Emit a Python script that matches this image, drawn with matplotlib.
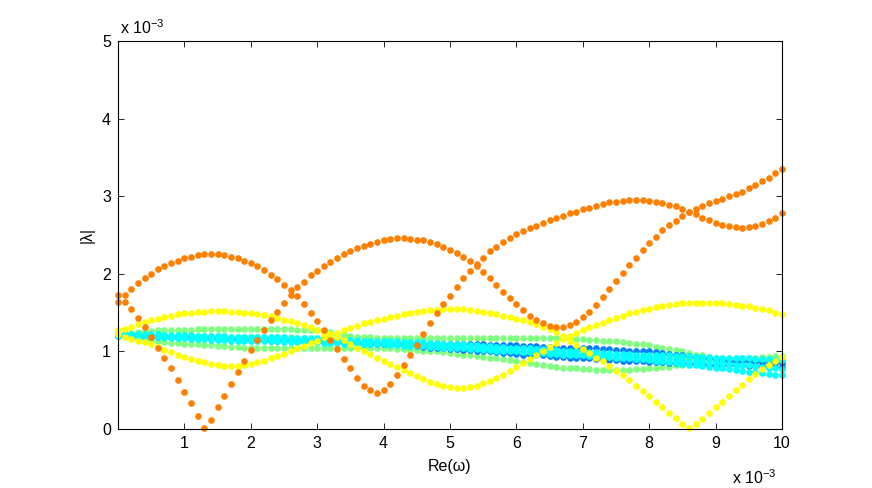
import numpy as np
import matplotlib
matplotlib.use("Agg")
import matplotlib.pyplot as plt

plt.rcParams['font.family'] = ['Liberation Sans', 'DejaVu Sans']
plt.rcParams['mathtext.default'] = 'regular'

# Re(omega) grid, in units of 1e-3
re_omega = np.linspace(0, 10, 101)

# |lambda| values, in units of 1e-3
orange_a = [1.73, 1.73, 1.81, 1.88, 1.94, 2.00, 2.06, 2.10, 2.14, 2.17,
            2.20, 2.22, 2.24, 2.25, 2.25, 2.25, 2.24, 2.22, 2.20, 2.17,
            2.14, 2.10, 2.05, 1.99, 1.93, 1.86, 1.79, 1.71, 1.61, 1.50,
            1.39, 1.27, 1.15, 1.03, 0.90, 0.78, 0.66, 0.56, 0.50, 0.47,
            0.50, 0.58, 0.69, 0.82, 0.95, 1.08, 1.22, 1.36, 1.49, 1.61,
            1.72, 1.83, 1.94, 2.03, 2.12, 2.21, 2.29, 2.35, 2.41, 2.46,
            2.51, 2.55, 2.59, 2.62, 2.66, 2.69, 2.72, 2.75, 2.78, 2.80,
            2.83, 2.85, 2.88, 2.90, 2.92, 2.93, 2.94, 2.95, 2.95, 2.95,
            2.94, 2.93, 2.91, 2.89, 2.87, 2.84, 2.80, 2.77, 2.72, 2.69,
            2.66, 2.63, 2.61, 2.60, 2.59, 2.60, 2.61, 2.64, 2.68, 2.72,
            2.78]
orange_b = [1.64, 1.64, 1.54, 1.43, 1.31, 1.18, 1.05, 0.92, 0.78, 0.63,
            0.48, 0.33, 0.17, 0.01, 0.12, 0.28, 0.43, 0.58, 0.73, 0.88,
            1.02, 1.15, 1.28, 1.40, 1.51, 1.63, 1.73, 1.83, 1.90, 1.98,
            2.04, 2.10, 2.15, 2.20, 2.25, 2.29, 2.33, 2.36, 2.39, 2.41,
            2.43, 2.45, 2.46, 2.46, 2.45, 2.44, 2.43, 2.41, 2.38, 2.35,
            2.31, 2.27, 2.22, 2.16, 2.10, 2.02, 1.94, 1.86, 1.77, 1.69,
            1.61, 1.53, 1.46, 1.40, 1.36, 1.33, 1.32, 1.32, 1.34, 1.38,
            1.44, 1.51, 1.60, 1.70, 1.80, 1.91, 2.01, 2.11, 2.21, 2.31,
            2.40, 2.48, 2.56, 2.63, 2.68, 2.74, 2.80, 2.84, 2.88, 2.91,
            2.94, 2.97, 3.00, 3.03, 3.06, 3.10, 3.14, 3.19, 3.24, 3.30,
            3.35]
yellow_a = [1.28, 1.29, 1.32, 1.35, 1.38, 1.40, 1.42, 1.44, 1.46, 1.48,
            1.49, 1.50, 1.51, 1.51, 1.52, 1.52, 1.52, 1.51, 1.51, 1.50,
            1.49, 1.48, 1.47, 1.45, 1.43, 1.41, 1.39, 1.37, 1.34, 1.31,
            1.28, 1.25, 1.22, 1.19, 1.15, 1.10, 1.05, 1.01, 0.97, 0.92,
            0.88, 0.84, 0.80, 0.76, 0.72, 0.68, 0.64, 0.61, 0.58, 0.56,
            0.54, 0.53, 0.53, 0.54, 0.56, 0.59, 0.62, 0.66, 0.70, 0.75,
            0.80, 0.85, 0.90, 0.96, 1.01, 1.06, 1.11, 1.16, 1.20, 1.24,
            1.28, 1.31, 1.34, 1.37, 1.40, 1.43, 1.46, 1.49, 1.51, 1.53,
            1.55, 1.57, 1.58, 1.60, 1.61, 1.62, 1.62, 1.63, 1.63, 1.63,
            1.62, 1.62, 1.61, 1.60, 1.59, 1.58, 1.56, 1.55, 1.53, 1.50,
            1.48]
yellow_b = [1.22, 1.19, 1.16, 1.14, 1.12, 1.09, 1.06, 1.02, 0.99, 0.96,
            0.93, 0.90, 0.88, 0.86, 0.84, 0.82, 0.81, 0.81, 0.81, 0.82,
            0.84, 0.86, 0.88, 0.91, 0.94, 0.97, 1.00, 1.04, 1.07, 1.11,
            1.14, 1.18, 1.21, 1.24, 1.27, 1.30, 1.33, 1.36, 1.38, 1.40,
            1.42, 1.44, 1.46, 1.48, 1.50, 1.51, 1.52, 1.53, 1.53, 1.54,
            1.54, 1.54, 1.54, 1.53, 1.52, 1.51, 1.50, 1.48, 1.46, 1.44,
            1.42, 1.40, 1.38, 1.35, 1.32, 1.29, 1.25, 1.20, 1.14, 1.08,
            1.03, 0.98, 0.92, 0.87, 0.81, 0.75, 0.69, 0.63, 0.56, 0.49,
            0.42, 0.35, 0.28, 0.21, 0.14, 0.07, 0.01, 0.06, 0.13, 0.20,
            0.28, 0.35, 0.43, 0.50, 0.57, 0.64, 0.71, 0.77, 0.83, 0.88,
            0.93]
green_up = [1.22, 1.23, 1.24, 1.25, 1.26, 1.26, 1.27, 1.27, 1.28, 1.28,
            1.28, 1.28, 1.29, 1.29, 1.29, 1.29, 1.29, 1.29, 1.29, 1.29,
            1.29, 1.29, 1.29, 1.29, 1.29, 1.29, 1.29, 1.28, 1.28, 1.28,
            1.27, 1.26, 1.25, 1.23, 1.21, 1.20, 1.19, 1.18, 1.18, 1.17,
            1.17, 1.17, 1.17, 1.17, 1.17, 1.17, 1.17, 1.17, 1.17, 1.17,
            1.17, 1.17, 1.17, 1.17, 1.17, 1.17, 1.17, 1.17, 1.17, 1.17,
            1.17, 1.17, 1.17, 1.17, 1.17, 1.17, 1.17, 1.17, 1.16, 1.16,
            1.16, 1.15, 1.15, 1.14, 1.14, 1.13, 1.12, 1.11, 1.10, 1.09,
            1.08, 1.06, 1.05, 1.03, 1.02, 1.00, 0.98, 0.96, 0.95, 0.93,
            0.92, 0.91, 0.90, 0.89, 0.89, 0.88, 0.89, 0.89, 0.90, 0.91,
            0.92]
green_mid = [1.22, 1.22, 1.22, 1.22, 1.21, 1.21, 1.21, 1.21, 1.21, 1.20,
             1.20, 1.20, 1.20, 1.20, 1.20, 1.20, 1.20, 1.19, 1.19, 1.19,
             1.19, 1.19, 1.19, 1.18, 1.18, 1.18, 1.18, 1.17, 1.17, 1.16,
             1.16, 1.15, 1.15, 1.14, 1.13, 1.13, 1.12, 1.12, 1.11, 1.11,
             1.11, 1.11, 1.10, 1.10, 1.10, 1.10, 1.09, 1.09, 1.08, 1.07,
             1.06, 1.05, 1.04, 1.03, 1.02, 1.01, 1.00, 0.99, 0.99, 0.98,
             0.98, 0.97, 0.97, 0.97, 0.97, 0.97, 0.97, 0.97, 0.97, 0.97,
             0.97, 0.97, 0.96, 0.96, 0.96, 0.96, 0.95, 0.95, 0.95, 0.94,
             0.94, 0.94, 0.93, 0.93, 0.92, 0.92, 0.91, 0.91, 0.90, 0.90,
             0.89, 0.89, 0.88, 0.88, 0.87, 0.87, 0.87, 0.86, 0.86, 0.86,
             0.86]
green_low = [1.22, 1.20, 1.18, 1.16, 1.15, 1.14, 1.13, 1.12, 1.11, 1.11,
             1.10, 1.10, 1.09, 1.08, 1.08, 1.07, 1.07, 1.06, 1.06, 1.05,
             1.05, 1.05, 1.05, 1.04, 1.04, 1.04, 1.04, 1.04, 1.04, 1.04,
             1.04, 1.04, 1.04, 1.04, 1.04, 1.04, 1.04, 1.04, 1.04, 1.04,
             1.04, 1.04, 1.03, 1.03, 1.02, 1.02, 1.01, 1.00, 1.00, 0.99,
             0.98, 0.97, 0.96, 0.95, 0.94, 0.93, 0.92, 0.91, 0.90, 0.89,
             0.88, 0.86, 0.85, 0.84, 0.82, 0.81, 0.80, 0.79, 0.78, 0.78,
             0.77, 0.77, 0.76, 0.76, 0.76, 0.76, 0.76, 0.76, 0.77, 0.77,
             0.78, 0.79, 0.80, 0.80, 0.82, 0.83, 0.84, 0.85, 0.86, 0.87,
             0.88, 0.89, 0.90, 0.90, 0.91, 0.92, 0.92, 0.93, 0.93, 0.94,
             0.94]
cyan_1 = [1.23, 1.23, 1.23, 1.22, 1.22, 1.22, 1.22, 1.21, 1.21, 1.21,
          1.21, 1.21, 1.20, 1.20, 1.20, 1.20, 1.20, 1.19, 1.19, 1.19,
          1.19, 1.19, 1.18, 1.18, 1.18, 1.18, 1.17, 1.17, 1.17, 1.17,
          1.17, 1.16, 1.16, 1.16, 1.15, 1.15, 1.15, 1.14, 1.14, 1.14,
          1.13, 1.13, 1.13, 1.12, 1.12, 1.12, 1.12, 1.11, 1.11, 1.10,
          1.10, 1.09, 1.09, 1.08, 1.08, 1.07, 1.07, 1.06, 1.06, 1.05,
          1.05, 1.04, 1.04, 1.03, 1.03, 1.02, 1.02, 1.01, 1.01, 1.00,
          1.00, 0.99, 0.99, 0.98, 0.98, 0.97, 0.97, 0.97, 0.96, 0.96,
          0.96, 0.95, 0.95, 0.95, 0.94, 0.94, 0.94, 0.93, 0.93, 0.93,
          0.92, 0.92, 0.92, 0.91, 0.91, 0.91, 0.90, 0.90, 0.90, 0.89,
          0.89]
cyan_2 = [1.21, 1.21, 1.21, 1.20, 1.20, 1.20, 1.20, 1.19, 1.19, 1.19,
          1.19, 1.18, 1.18, 1.18, 1.18, 1.17, 1.17, 1.17, 1.17, 1.16,
          1.16, 1.16, 1.16, 1.16, 1.15, 1.15, 1.15, 1.15, 1.14, 1.14,
          1.14, 1.14, 1.13, 1.13, 1.13, 1.13, 1.12, 1.12, 1.12, 1.11,
          1.11, 1.11, 1.10, 1.10, 1.10, 1.09, 1.09, 1.08, 1.08, 1.07,
          1.07, 1.06, 1.06, 1.05, 1.05, 1.04, 1.04, 1.03, 1.03, 1.02,
          1.02, 1.01, 1.01, 1.00, 1.00, 0.99, 0.99, 0.98, 0.98, 0.97,
          0.97, 0.96, 0.96, 0.95, 0.95, 0.94, 0.94, 0.93, 0.93, 0.92,
          0.92, 0.91, 0.91, 0.90, 0.89, 0.89, 0.88, 0.87, 0.87, 0.86,
          0.85, 0.85, 0.84, 0.83, 0.82, 0.82, 0.81, 0.80, 0.79, 0.78,
          0.77]
cyan_3 = [1.20, 1.20, 1.19, 1.19, 1.19, 1.18, 1.18, 1.18, 1.17, 1.17,
          1.17, 1.16, 1.16, 1.16, 1.15, 1.15, 1.15, 1.14, 1.14, 1.14,
          1.14, 1.13, 1.13, 1.13, 1.13, 1.12, 1.12, 1.12, 1.12, 1.12,
          1.12, 1.11, 1.11, 1.11, 1.10, 1.10, 1.10, 1.09, 1.09, 1.09,
          1.09, 1.08, 1.08, 1.07, 1.07, 1.07, 1.07, 1.06, 1.06, 1.05,
          1.05, 1.04, 1.04, 1.03, 1.03, 1.02, 1.02, 1.01, 1.01, 1.00,
          1.00, 0.99, 0.99, 0.98, 0.98, 0.97, 0.97, 0.96, 0.96, 0.95,
          0.95, 0.94, 0.94, 0.93, 0.93, 0.92, 0.92, 0.91, 0.90, 0.90,
          0.89, 0.88, 0.87, 0.86, 0.85, 0.84, 0.83, 0.82, 0.81, 0.80,
          0.79, 0.78, 0.77, 0.76, 0.75, 0.74, 0.73, 0.72, 0.71, 0.70,
          0.69]
blue_1 = [1.21, 1.21, 1.21, 1.21, 1.20, 1.20, 1.20, 1.20, 1.19, 1.19,
          1.19, 1.19, 1.18, 1.18, 1.18, 1.18, 1.17, 1.17, 1.17, 1.17,
          1.16, 1.16, 1.16, 1.16, 1.15, 1.15, 1.15, 1.15, 1.14, 1.14,
          1.14, 1.13, 1.13, 1.13, 1.12, 1.12, 1.12, 1.11, 1.11, 1.11,
          1.10, 1.10, 1.10, 1.09, 1.09, 1.09, 1.09, 1.09, 1.09, 1.09,
          1.09, 1.09, 1.09, 1.09, 1.09, 1.09, 1.08, 1.08, 1.08, 1.08,
          1.08, 1.07, 1.07, 1.07, 1.06, 1.06, 1.06, 1.05, 1.05, 1.05,
          1.04, 1.04, 1.04, 1.03, 1.03, 1.02, 1.02, 1.01, 1.01, 1.00,
          1.00, 0.99, 0.98, 0.97, 0.96, 0.95, 0.94, 0.93, 0.92, 0.91,
          0.90, 0.89, 0.88, 0.88, 0.87, 0.87, 0.86, 0.86, 0.85, 0.85,
          0.85]
blue_2 = [1.20, 1.20, 1.20, 1.20, 1.19, 1.19, 1.19, 1.19, 1.18, 1.18,
          1.18, 1.18, 1.17, 1.17, 1.17, 1.16, 1.16, 1.16, 1.16, 1.15,
          1.15, 1.15, 1.15, 1.14, 1.14, 1.14, 1.14, 1.13, 1.13, 1.13,
          1.13, 1.12, 1.12, 1.12, 1.11, 1.11, 1.11, 1.10, 1.10, 1.10,
          1.09, 1.09, 1.09, 1.08, 1.08, 1.07, 1.06, 1.05, 1.05, 1.04,
          1.03, 1.03, 1.02, 1.02, 1.01, 1.00, 1.00, 0.99, 0.98, 0.98,
          0.97, 0.96, 0.96, 0.95, 0.95, 0.94, 0.93, 0.93, 0.92, 0.92,
          0.91, 0.91, 0.90, 0.90, 0.89, 0.89, 0.88, 0.88, 0.87, 0.87,
          0.86, 0.86, 0.86, 0.85, 0.85, 0.85, 0.84, 0.84, 0.84, 0.83,
          0.83, 0.83, 0.82, 0.82, 0.82, 0.81, 0.81, 0.81, 0.80, 0.80,
          0.80]

x_ticks = [1, 2, 3, 4, 5, 6, 7, 8, 9, 10]
y_ticks = [0, 1, 2, 3, 4, 5]

# drawing order bottom -> top, with colour
series = [
    (green_low, '#80ff80'), (green_mid, '#80ff80'), (green_up, '#80ff80'),
    (blue_1, '#0080ff'), (blue_2, '#0080ff'),
    (cyan_1, '#00ffff'), (cyan_2, '#00ffff'), (cyan_3, '#00ffff'),
    (yellow_a, '#ffff00'), (yellow_b, '#ffff00'),
    (orange_a, '#ff8000'), (orange_b, '#ff8000'),
]

fig = plt.figure(figsize=(8.72, 4.88), dpi=100)
ax = fig.add_axes([118/872, 59/488, 664/872, 388/488])

for vals, col in series:
    ax.plot(re_omega, vals, linestyle='none', marker='o', ms=4.8,
            mfc=col, mec='none', clip_on=False)

ax.set_xlim(0, 10)
ax.set_ylim(0, 5)
ax.set_xticks(x_ticks)
ax.set_yticks(y_ticks)
ax.set_xticklabels([str(t) for t in x_ticks])
ax.set_yticklabels([str(t) for t in y_ticks])
ax.tick_params(direction='in', top=True, right=True, length=4.3, width=0.6,
               labelsize=11.5, pad=5)
for s in ax.spines.values():
    s.set_linewidth(0.8)

ax.set_xlabel('Re(ω)', fontsize=11.5, labelpad=6)
ax.set_ylabel('|λ|', fontsize=11.5, labelpad=5)

fig.text(120/872, 1 - 34/488, r'x 10$^{-3}$', fontsize=11.5, ha='left', va='baseline')
fig.text(732/872, 1 - 484/488, r'x 10$^{-3}$', fontsize=11.5, ha='left', va='baseline')

fig.savefig('out.png', dpi=100)
